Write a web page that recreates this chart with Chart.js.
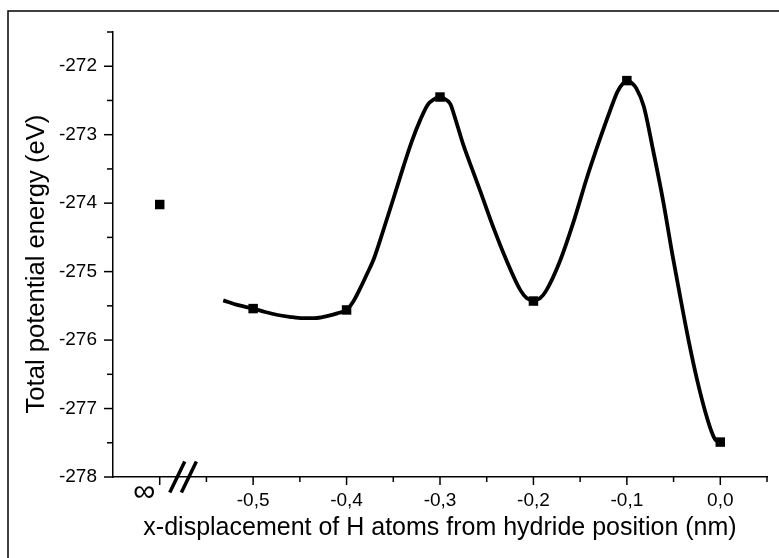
<!DOCTYPE html>
<html>
<head>
<meta charset="utf-8">
<script src="https://cdn.jsdelivr.net/npm/chart.js@4/dist/chart.umd.min.js"></script>
<style>
  html, body { margin: 0; padding: 0; background: #fff; }
  #wrap { width: 779px; height: 558px; position: relative; }
</style>
</head>
<body>
<div id="wrap"><canvas id="c" width="779" height="558"></canvas></div>
<script>
// ---- Data ----
// Calculated points (x-displacement in nm; the "∞" position is drawn at -0.6)
const pointX = [-0.6, -0.5, -0.4, -0.3, -0.2, -0.1, 0.0];
const pointEnergy = [-274.02, -275.54, -275.56, -272.45, -275.43, -272.21, -277.49];

// Smooth fitted curve, samples
const curveX = [
  -0.532, -0.516, -0.5, -0.487, -0.475, -0.461, -0.447, -0.434, -0.421, -0.410, -0.4,
  -0.393, -0.386, -0.379, -0.371, -0.361, -0.35, -0.339, -0.330, -0.321, -0.313, -0.306, -0.3,
  -0.296, -0.289, -0.284, -0.275, -0.264, -0.257, -0.243, -0.229, -0.214, -0.207, -0.2,
  -0.193, -0.186, -0.172, -0.157, -0.143, -0.129, -0.118, -0.110, -0.104, -0.1,
  -0.095, -0.090, -0.082, -0.072, -0.061, -0.051, -0.043, -0.034, -0.025, -0.016, -0.009, -0.005, 0.0];
const curveEnergy = [
  -275.42, -275.49, -275.54, -275.59, -275.63, -275.66, -275.68, -275.68, -275.65, -275.61, -275.56,
  -275.44, -275.26, -275.06, -274.82, -274.41, -273.94, -273.46, -273.09, -272.78, -272.56, -272.48, -272.44,
  -272.47, -272.55, -272.75, -273.15, -273.56, -273.82, -274.35, -274.83, -275.27, -275.39, -275.42,
  -275.39, -275.27, -274.86, -274.27, -273.64, -273.07, -272.65, -272.37, -272.25, -272.21,
  -272.24, -272.32, -272.58, -273.22, -273.98, -274.77, -275.36, -276.00, -276.57, -277.05, -277.35, -277.46, -277.49];

// Axis ticks
const xTickValues = [-0.6, -0.55, -0.5, -0.45, -0.4, -0.35, -0.3, -0.25, -0.2, -0.15, -0.1, -0.05, 0.0, 0.05];
const xTickLabels = ['∞\u2003', '', '-0,5', '', '-0,4', '', '-0,3', '', '-0,2', '', '-0,1', '', '0,0', ''];
const yTickValues = [-278, -277.5, -277, -276.5, -276, -275.5, -275, -274.5, -274, -273.5, -273, -272.5, -272, -271.5];
const yTickLabels = ['-278', '', '-277', '', '-276', '', '-275', '', '-274', '', '-273', '', '-272', ''];
const axisBreakAt = -0.575;
const yTitle = 'Total potential energy (eV)';
const xTitle = 'x-displacement of H atoms from hydride position (nm)';

const FONT = '"Liberation Sans", Arial, Helvetica, sans-serif';

const decor = {
  id: 'decor',
  afterDraw(chart) {
    const ctx = chart.ctx;
    const xs = chart.scales.x, ys = chart.scales.y;
    const area = chart.chartArea;
    ctx.save();
    ctx.strokeStyle = '#000';
    ctx.lineWidth = 1.5;
    // tick marks (outward)
    xTickValues.forEach((v, i) => {
      const px = xs.getPixelForValue(v);
      const len = xTickLabels[i] ? 8 : 5;
      ctx.beginPath();
      ctx.moveTo(px, area.bottom);
      ctx.lineTo(px, area.bottom + len);
      ctx.stroke();
    });
    yTickValues.forEach((v, i) => {
      const py = ys.getPixelForValue(v);
      const len = yTickLabels[i] ? 9 : 6;
      ctx.beginPath();
      ctx.moveTo(area.left - len, py);
      ctx.lineTo(area.left, py);
      ctx.stroke();
    });
    // axis break marks "//"
    const cx = xs.getPixelForValue(axisBreakAt);
    const cy = area.bottom;
    ctx.lineWidth = 3.5;
    [-5.8, 5.8].forEach(off => {
      ctx.beginPath();
      ctx.moveTo(cx + off - 7.5, cy + 15.5);
      ctx.lineTo(cx + off + 7.5, cy - 15.5);
      ctx.stroke();
    });
    // y axis title
    ctx.fillStyle = '#000';
    ctx.font = '25.6px ' + FONT;
    ctx.textAlign = 'center';
    ctx.textBaseline = 'middle';
    ctx.translate(37, ys.getPixelForValue(-274.89));
    ctx.rotate(-Math.PI / 2);
    ctx.fillText(yTitle, 0, 0);
    ctx.setTransform(1, 0, 0, 1, 0, 0);
    // outer frame (left and top edges)
    ctx.lineWidth = 1.5;
    ctx.beginPath();
    ctx.moveTo(8, chart.height);
    ctx.lineTo(8, 11);
    ctx.lineTo(chart.width, 11);
    ctx.stroke();
    ctx.restore();
  }
};

new Chart(document.getElementById('c'), {
  type: 'scatter',
  data: {
    datasets: [
      {
        label: 'fit',
        data: curveX.map((x, i) => ({ x: x, y: curveEnergy[i] })),
        showLine: true,
        borderColor: '#000',
        borderWidth: 3.8,
        pointRadius: 0,
        cubicInterpolationMode: 'monotone',
        fill: false
      },
      {
        label: 'calculated',
        data: pointX.map((x, i) => ({ x: x, y: pointEnergy[i] })),
        showLine: false,
        pointStyle: 'rect',
        pointRadius: 6.7,
        backgroundColor: '#000',
        borderColor: '#000',
        borderWidth: 0
      }
    ]
  },
  options: {
    responsive: false,
    animation: false,
    devicePixelRatio: 1,
    layout: { padding: { top: 32, right: 12, left: 0, bottom: 0 } },
    plugins: { legend: { display: false }, tooltip: { enabled: false } },
    scales: {
      x: {
        type: 'linear',
        min: -0.65,
        max: 0.05,
        afterBuildTicks: s => { s.ticks = xTickValues.map(v => ({ value: v })); },
        afterFit: s => { s.height = 81; },
        grid: { display: false, drawTicks: false },
        border: { display: true, color: '#000', width: 1.5 },
        ticks: {
          autoSkip: false, maxRotation: 0, minRotation: 0, padding: 12,
          color: '#000',
          font: c => (c.tick && c.tick.value === -0.6)
            ? { family: FONT, size: 31, lineHeight: 0.25 }
            : { family: FONT, size: 19 },
          callback: (v, i) => xTickLabels[i]
        },
        title: {
          display: true,
          text: xTitle,
          color: '#000',
          font: { family: FONT, size: 25 },
          padding: { top: 0, bottom: 15 }
        }
      },
      y: {
        type: 'linear',
        min: -278,
        max: -271.5,
        afterBuildTicks: s => { s.ticks = yTickValues.map(v => ({ value: v })); },
        afterFit: s => { s.width = 113; },
        grid: { display: false, drawTicks: false },
        border: { display: true, color: '#000', width: 1.5 },
        ticks: {
          autoSkip: false, padding: 16,
          color: '#000', font: { family: FONT, size: 19 },
          callback: (v, i) => yTickLabels[i]
        },
        title: { display: false }
      }
    }
  },
  plugins: [decor]
});
</script>
</body>
</html>
